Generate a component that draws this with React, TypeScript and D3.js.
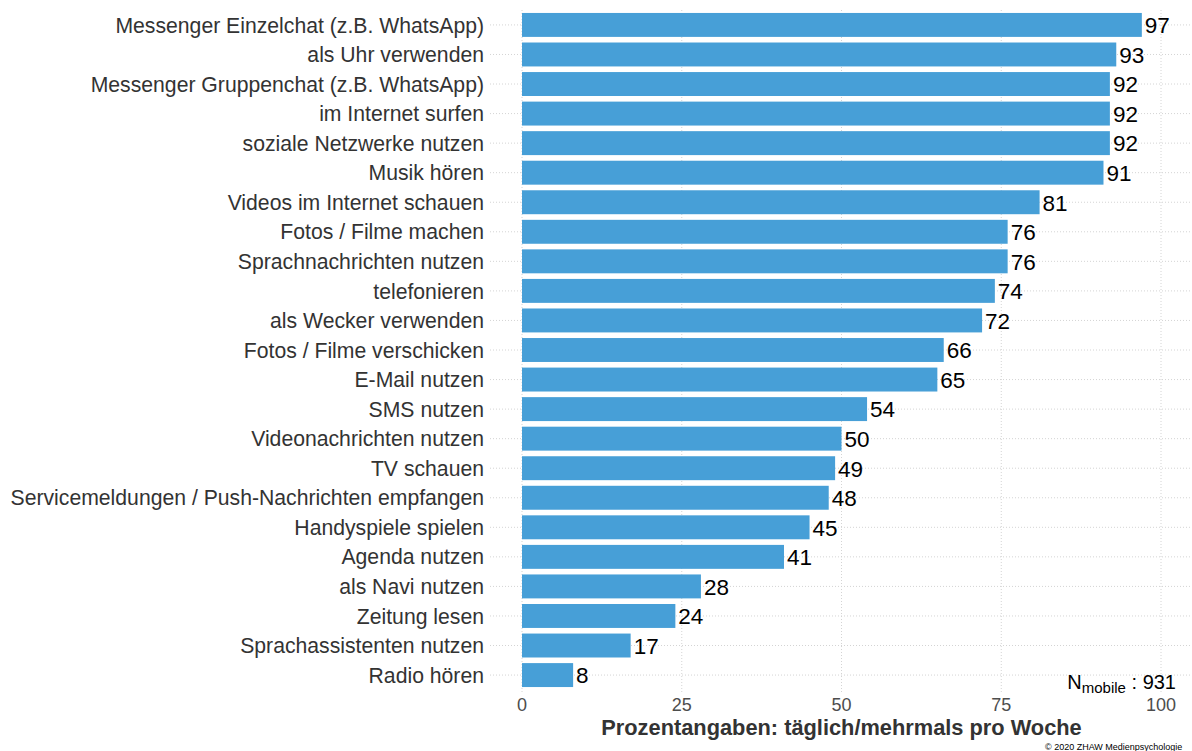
import React from "react";
import * as d3 from "d3";

const categories = [
  "Messenger Einzelchat (z.B. WhatsApp)",
  "als Uhr verwenden",
  "Messenger Gruppenchat (z.B. WhatsApp)",
  "im Internet surfen",
  "soziale Netzwerke nutzen",
  "Musik hören",
  "Videos im Internet schauen",
  "Fotos / Filme machen",
  "Sprachnachrichten nutzen",
  "telefonieren",
  "als Wecker verwenden",
  "Fotos / Filme verschicken",
  "E-Mail nutzen",
  "SMS nutzen",
  "Videonachrichten nutzen",
  "TV schauen",
  "Servicemeldungen / Push-Nachrichten empfangen",
  "Handyspiele spielen",
  "Agenda nutzen",
  "als Navi nutzen",
  "Zeitung lesen",
  "Sprachassistenten nutzen",
  "Radio hören",
];
const values = [97, 93, 92, 92, 92, 91, 81, 76, 76, 74, 72, 66, 65, 54, 50, 49, 48, 45, 41, 28, 24, 17, 8];
const xTicks = [0, 25, 50, 75, 100];
const xTitle = "Prozentangaben: täglich/mehrmals pro Woche";
const nLabel = "931";
const copyright = "© 2020 ZHAW Medienpsychologie";

const W = 1192;
const H = 751;
const FONT = "'Liberation Sans', Arial, sans-serif";

export default function App() {
  const x = d3.scaleLinear().domain([0, 100]).range([522, 1161]);
  const y = d3.scaleBand<string>().domain(categories).range([10, 690]).paddingInner(0.19).paddingOuter(0.1);
  const gridLeft = 490;
  const gridRight = W;
  const gridTop = 10;
  const gridBottom = 693;
  const barColor = "#479fd7";

  return (
    <svg width={W} height={H} style={{ position: "absolute", left: 0, top: 0, background: "#fff" }} fontFamily={FONT}>
      {categories.map((c) => {
        const cy = (y(c) as number) + y.bandwidth() / 2;
        return (
          <line key={"hg" + c} x1={gridLeft} x2={gridRight} y1={cy} y2={cy} stroke="#d4d4d4" strokeWidth={1} strokeDasharray="1,2" />
        );
      })}
      {xTicks.map((t) => (
        <line key={"vg" + t} x1={x(t)} x2={x(t)} y1={gridTop} y2={gridBottom} stroke="#d4d4d4" strokeWidth={1} strokeDasharray="1,2" />
      ))}
      {categories.map((c, i) => (
        <rect key={"b" + c} x={x(0)} y={y(c)} width={x(values[i]) - x(0)} height={y.bandwidth()} fill={barColor} />
      ))}
      {categories.map((c, i) => {
        const cy = (y(c) as number) + y.bandwidth() / 2;
        return (
          <text key={"v" + c} x={x(values[i]) + 3} y={cy} dy="0.37em" fontSize={22.5} fill="#000">
            {values[i]}
          </text>
        );
      })}
      {categories.map((c) => {
        const cy = (y(c) as number) + y.bandwidth() / 2;
        return (
          <text key={"l" + c} x={484} y={cy} dy="0.36em" fontSize={21.2} fill="#333" textAnchor="end">
            {c}
          </text>
        );
      })}
      {xTicks.map((t) => (
        <text key={"xt" + t} x={x(t)} y={711} fontSize={18} fill="#4d4d4d" textAnchor="middle">
          {t}
        </text>
      ))}
      <text x={(x(0) + x(100)) / 2} y={735} fontSize={21.8} fontWeight="bold" fill="#333" textAnchor="middle">
        {xTitle}
      </text>
      <text x={1176} y={689} fontSize={20} fill="#000" textAnchor="end">
        <tspan>N</tspan>
        <tspan fontSize={15} dy={4}>mobile</tspan>
        <tspan dy={-4}> : {nLabel}</tspan>
      </text>
      <text x={1045} y={750} fontSize={9} fill="#000">
        {copyright}
      </text>
    </svg>
  );
}
